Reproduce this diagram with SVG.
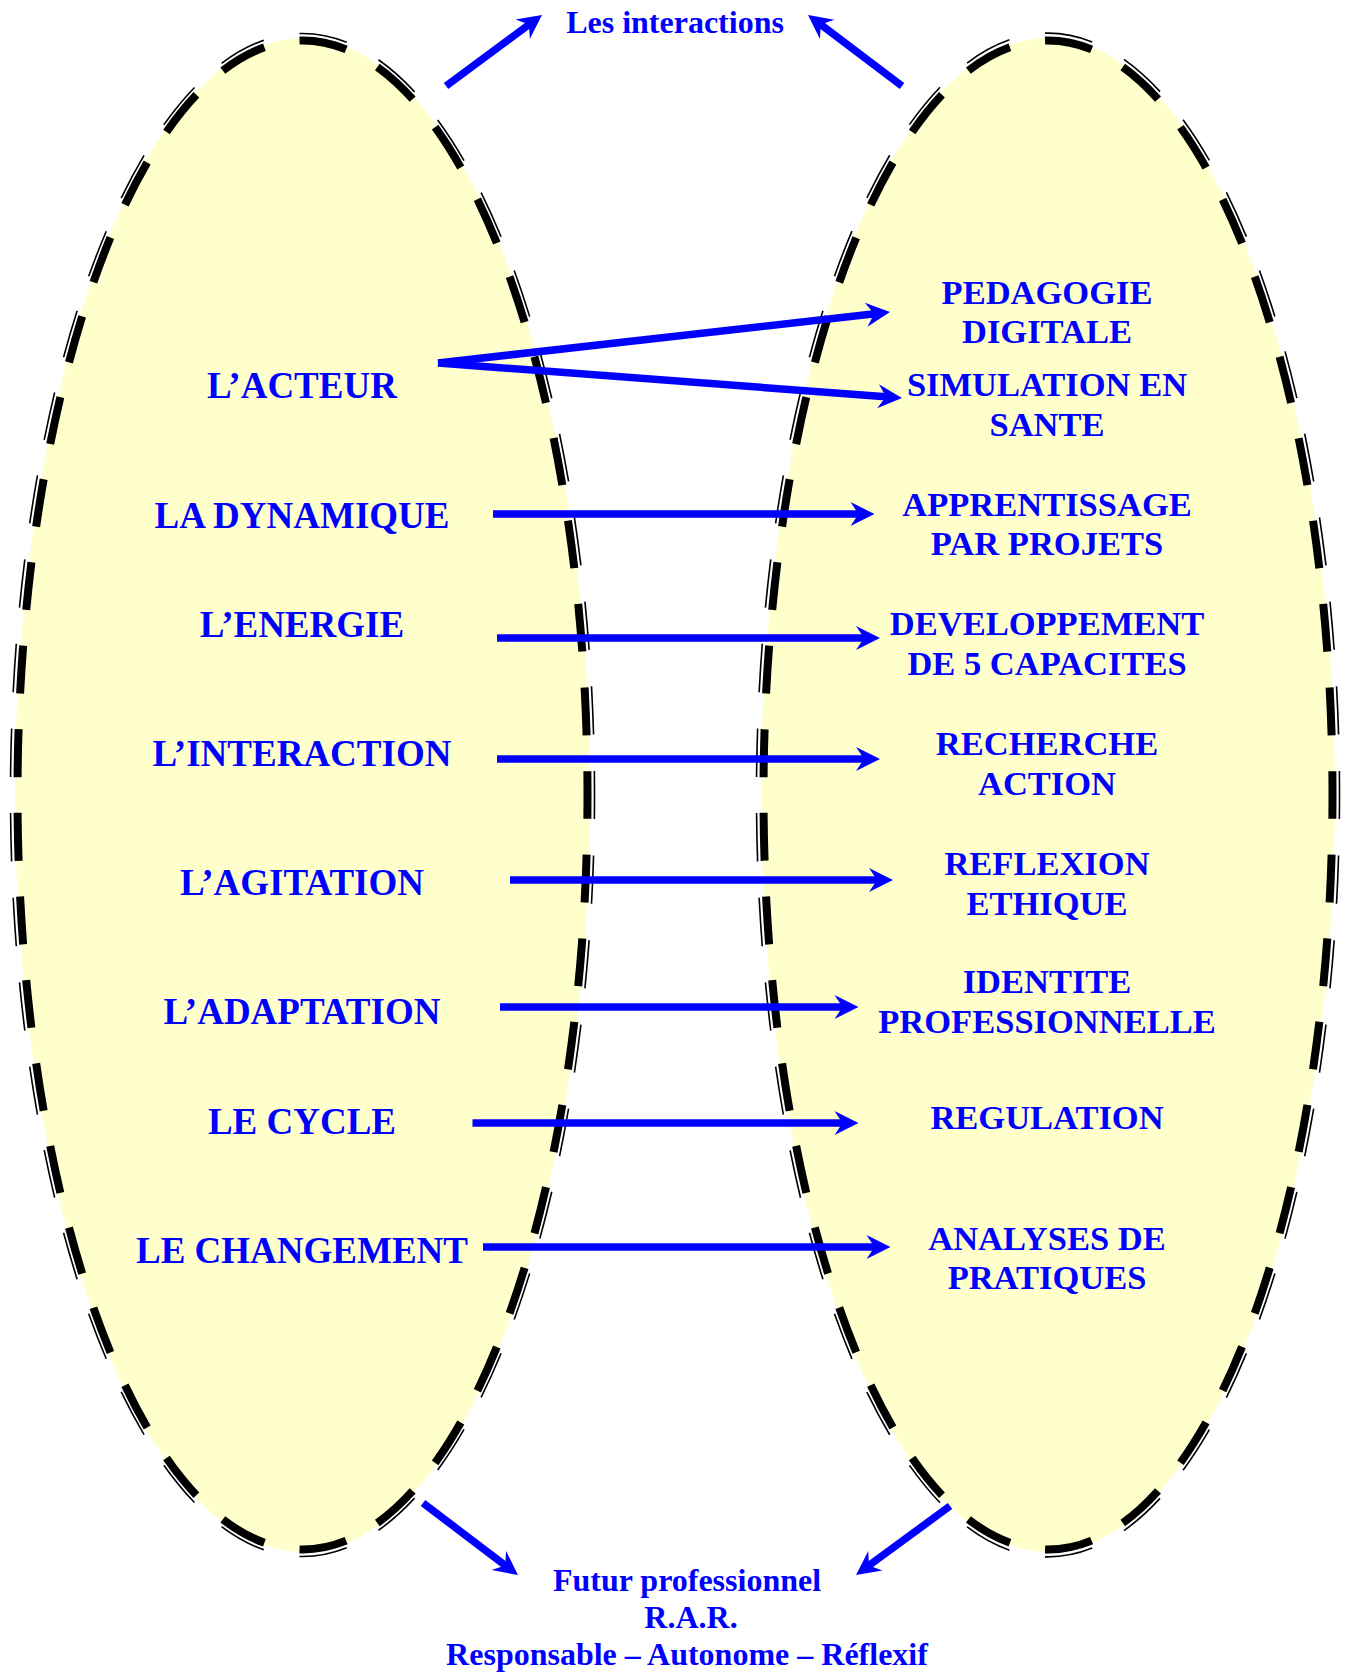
<svg xmlns="http://www.w3.org/2000/svg" width="1347" height="1672" viewBox="0 0 1347 1672">
<style>
.fill{fill:#FFFFCC;stroke:none}
.thick{fill:none;stroke:#000;stroke-width:8;stroke-dasharray:57.14 42.86;stroke-dashoffset:28.57}
.thin{fill:none;stroke:#000;stroke-width:1.6;stroke-dasharray:57.14 42.86;stroke-dashoffset:28.57}
.lbl{font-family:"Liberation Serif","Times New Roman",serif;font-weight:bold;fill:#0000FF;text-anchor:middle}
.l{font-size:37px}
.r{font-size:34.5px}
.t{font-size:32px}
.conn line{stroke:#0000FF;stroke-width:7.5;stroke-linecap:butt;marker-end:url(#ah)}
</style>
<defs>
<marker id="ah" markerUnits="userSpaceOnUse" markerWidth="40" markerHeight="40" refX="0" refY="0" orient="auto" overflow="visible">
<path d="M13,0 L-11,-12 L-3,0 L-11,12 Z" fill="#0000FF"/>
</marker>
</defs>
<rect width="1347" height="1672" fill="#fff"/>
<g id="ellipse-left">
<ellipse class="fill" cx="302.5" cy="795" rx="287.5" ry="757"/>
<path class="thick" pathLength="4100" d="M587.5,795 A285,754.5 0 1 1 17.5,795 A285,754.5 0 1 1 587.5,795 Z"/>
<path class="thin" pathLength="4100" d="M594.5,795 A292,761.5 0 1 1 10.5,795 A292,761.5 0 1 1 594.5,795 Z"/>
</g>
<g id="ellipse-right">
<ellipse class="fill" cx="1048" cy="795" rx="287" ry="757"/>
<path class="thick" pathLength="4100" d="M1332.5,795 A284.5,754.5 0 1 1 763.5,795 A284.5,754.5 0 1 1 1332.5,795 Z"/>
<path class="thin" pathLength="4100" d="M1339.5,795 A291.5,761.5 0 1 1 756.5,795 A291.5,761.5 0 1 1 1339.5,795 Z"/>
</g>
<g id="connectors" class="conn">
<line x1="446" y1="86" x2="531.5" y2="22.7"/>
<line x1="902" y1="86" x2="818.4" y2="22.8"/>
<line x1="423" y1="1503" x2="507.6" y2="1567.2"/>
<line x1="950" y1="1506" x2="866.5" y2="1567.3"/>
<line x1="438" y1="363" x2="877.1" y2="313.5"/>
<line x1="438" y1="363" x2="889" y2="397"/>
<line x1="493" y1="514" x2="861.5" y2="514"/>
<line x1="497" y1="638" x2="867" y2="638"/>
<line x1="497" y1="759" x2="867" y2="759"/>
<line x1="510" y1="880" x2="880" y2="880"/>
<line x1="500" y1="1007" x2="845.5" y2="1007"/>
<line x1="472.5" y1="1123" x2="845.5" y2="1123"/>
<line x1="483" y1="1247" x2="877.5" y2="1247"/>
</g>
<g id="title-top"><text class="lbl t" x="675" y="33">Les interactions</text></g>
<g id="title-bottom">
<text class="lbl t" x="687" y="1591">Futur professionnel</text>
<text class="lbl t" x="691" y="1628">R.A.R.</text>
<text class="lbl t" x="687" y="1665">Responsable – Autonome – Réflexif</text>
</g>
<g id="left-acteur"><text class="lbl l" x="302" y="398">L’ACTEUR</text></g>
<g id="left-dynamique"><text class="lbl l" x="302" y="527.5">LA DYNAMIQUE</text></g>
<g id="left-energie"><text class="lbl l" x="302" y="637">L’ENERGIE</text></g>
<g id="left-interaction"><text class="lbl l" x="302" y="766">L’INTERACTION</text></g>
<g id="left-agitation"><text class="lbl l" x="302" y="895">L’AGITATION</text></g>
<g id="left-adaptation"><text class="lbl l" x="302" y="1024">L’ADAPTATION</text></g>
<g id="left-cycle"><text class="lbl l" x="302" y="1134">LE CYCLE</text></g>
<g id="left-changement"><text class="lbl l" x="302" y="1263">LE CHANGEMENT</text></g>
<g id="right-pedagogie"><text class="lbl r" x="1047" y="303.6">PEDAGOGIE</text><text class="lbl r" x="1047" y="343">DIGITALE</text></g>
<g id="right-simulation"><text class="lbl r" x="1047" y="396.4">SIMULATION EN</text><text class="lbl r" x="1047" y="435.9">SANTE</text></g>
<g id="right-apprentissage"><text class="lbl r" x="1047" y="515.9">APPRENTISSAGE</text><text class="lbl r" x="1047" y="555.3">PAR PROJETS</text></g>
<g id="right-developpement"><text class="lbl r" x="1047" y="635.3">DEVELOPPEMENT</text><text class="lbl r" x="1047" y="674.8">DE 5 CAPACITES</text></g>
<g id="right-recherche"><text class="lbl r" x="1047" y="754.8">RECHERCHE</text><text class="lbl r" x="1047" y="795.3">ACTION</text></g>
<g id="right-reflexion"><text class="lbl r" x="1047" y="875.3">REFLEXION</text><text class="lbl r" x="1047" y="914.7">ETHIQUE</text></g>
<g id="right-identite"><text class="lbl r" x="1047" y="993.3">IDENTITE</text><text class="lbl r" x="1047" y="1033.3">PROFESSIONNELLE</text></g>
<g id="right-regulation"><text class="lbl r" x="1047" y="1129">REGULATION</text></g>
<g id="right-analyses"><text class="lbl r" x="1047" y="1249.6">ANALYSES DE</text><text class="lbl r" x="1047" y="1289">PRATIQUES</text></g>
</svg>
